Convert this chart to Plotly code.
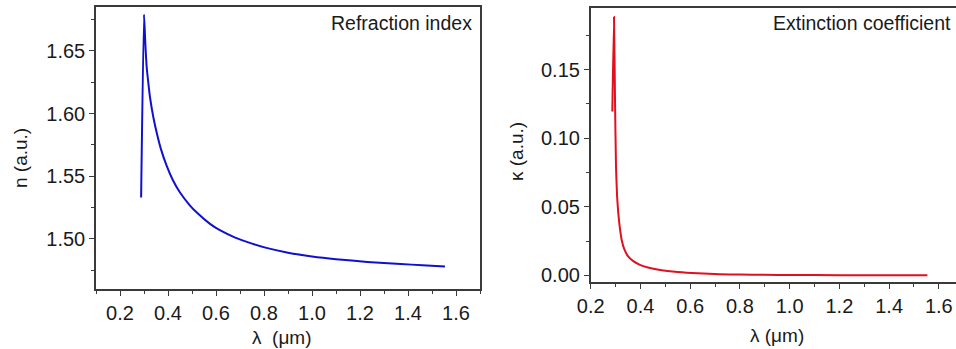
import plotly.graph_objects as go

# Refraction index n(λ)
wl_n = [0.288, 0.300, 0.305, 0.311, 0.318, 0.325, 0.340, 0.355, 0.370, 0.395, 0.420, 0.450, 0.490,
        0.520, 0.575, 0.620, 0.680, 0.750, 0.810, 0.900, 1.000, 1.100, 1.230,
        1.370, 1.460, 1.554]
n_vals = [1.533, 1.679, 1.658, 1.6375, 1.6245, 1.613, 1.596, 1.583, 1.572, 1.558, 1.547, 1.537, 1.527,
          1.521, 1.512, 1.5065, 1.5010, 1.4962, 1.4928, 1.4890, 1.4860, 1.4838, 1.4816,
          1.4799, 1.4790, 1.4780]

# Extinction coefficient κ(λ)
wl_k = [0.287, 0.2937, 0.2977, 0.3018, 0.306, 0.311, 0.317, 0.3247, 0.335, 0.3513, 0.370,
        0.398, 0.430, 0.479, 0.550, 0.630, 0.720, 0.800, 0.900, 1.000, 1.200, 1.400, 1.554]
k_vals = [0.1195, 0.1885, 0.128, 0.0794, 0.058, 0.0453, 0.0350, 0.0258, 0.0190, 0.0136, 0.0105,
          0.0076, 0.0057, 0.0039, 0.0024, 0.0014, 0.0008, 0.0005, 0.0003, 0.0002, 0.0001, 0.00005, 0.0]

x_title = "λ  (μm)"
n_title = "n (a.u.)"
k_title = "κ (a.u.)"
n_label = "Refraction index"
k_label = "Extinction coefficient"

W, H = 956, 349
FONT = "Arial, 'Liberation Sans', sans-serif"
TXT = "#1a1a1a"
AX = "#3a3a3a"

fig = go.Figure()
fig.add_trace(go.Scatter(x=wl_n, y=n_vals, mode="lines", line=dict(color="#1010d0", width=2, shape="spline", smoothing=0.5),
                         xaxis="x", yaxis="y", showlegend=False))
fig.add_trace(go.Scatter(x=wl_k, y=k_vals, mode="lines", line=dict(color="#e01020", width=2, shape="spline", smoothing=0.5),
                         xaxis="x2", yaxis="y2", showlegend=False))

def px_x(p):
    return p / W

def px_y(p):
    return 1 - p / H

common = dict(showgrid=False, zeroline=False, showline=True, linecolor=AX, linewidth=1.5,
              ticks="outside", ticklen=5, tickwidth=1.2, tickcolor=AX, automargin=False,
              tickfont=dict(family=FONT, size=20, color=TXT))

fig.update_layout(
    width=W, height=H, margin=dict(l=0, r=0, t=0, b=0, autoexpand=False),
    paper_bgcolor="white", plot_bgcolor="white",
    xaxis=dict(domain=[px_x(96), px_x(480)], range=[0.1, 1.7], anchor="y", mirror=True,
               tick0=0.2, dtick=0.2, tickformat=".1f",
               minor=dict(ticks="outside", ticklen=3, tickcolor=AX, dtick=0.1, tick0=0.1), **common),
    yaxis=dict(domain=[px_y(289), px_y(7)], range=[1.46, 1.685], anchor="x", mirror=True,
               tick0=1.5, dtick=0.05, tickformat=".2f",
               minor=dict(ticks="outside", ticklen=3, tickcolor=AX, dtick=0.025, tick0=1.475), **common),
    xaxis2=dict(domain=[px_x(590.7), 1.0], range=[0.2, 1.669], anchor="y2", mirror=True,
                tick0=0.2, dtick=0.2, tickformat=".1f",
                minor=dict(ticks="outside", ticklen=3, tickcolor=AX, dtick=0.1, tick0=0.2), **common),
    yaxis2=dict(domain=[px_y(282), px_y(8)], range=[-0.0049, 0.195], anchor="x2", mirror=False,
                tick0=0, dtick=0.05, tickformat=".2f",
                minor=dict(ticks="outside", ticklen=3, tickcolor=AX, dtick=0.025, tick0=0), **common),
)

ann = [
    dict(text=n_label, x=px_x(474), y=px_y(23), xanchor="right", yanchor="middle", size=19.5),
    dict(text=k_label, x=px_x(953), y=px_y(23), xanchor="right", yanchor="middle", size=19.5),
    dict(text=x_title, x=px_x(282), y=px_y(337), xanchor="center", yanchor="middle", size=19),
    dict(text=x_title.replace("  ", " "), x=px_x(777), y=px_y(335), xanchor="center", yanchor="middle", size=19),
]
for a in ann:
    fig.add_annotation(text=a["text"], x=a["x"], y=a["y"], xref="paper", yref="paper",
                       xanchor=a["xanchor"], yanchor=a["yanchor"], showarrow=False,
                       font=dict(family=FONT, size=a["size"], color=TXT))
fig.add_annotation(text=n_title, x=px_x(20), y=px_y(158), xref="paper", yref="paper", textangle=-90,
                   showarrow=False, xanchor="center", yanchor="middle", font=dict(family=FONT, size=19, color=TXT))
fig.add_annotation(text=k_title, x=px_x(516), y=px_y(152), xref="paper", yref="paper", textangle=-90,
                   showarrow=False, xanchor="center", yanchor="middle", font=dict(family=FONT, size=19, color=TXT))

fig.write_html("out.html")
